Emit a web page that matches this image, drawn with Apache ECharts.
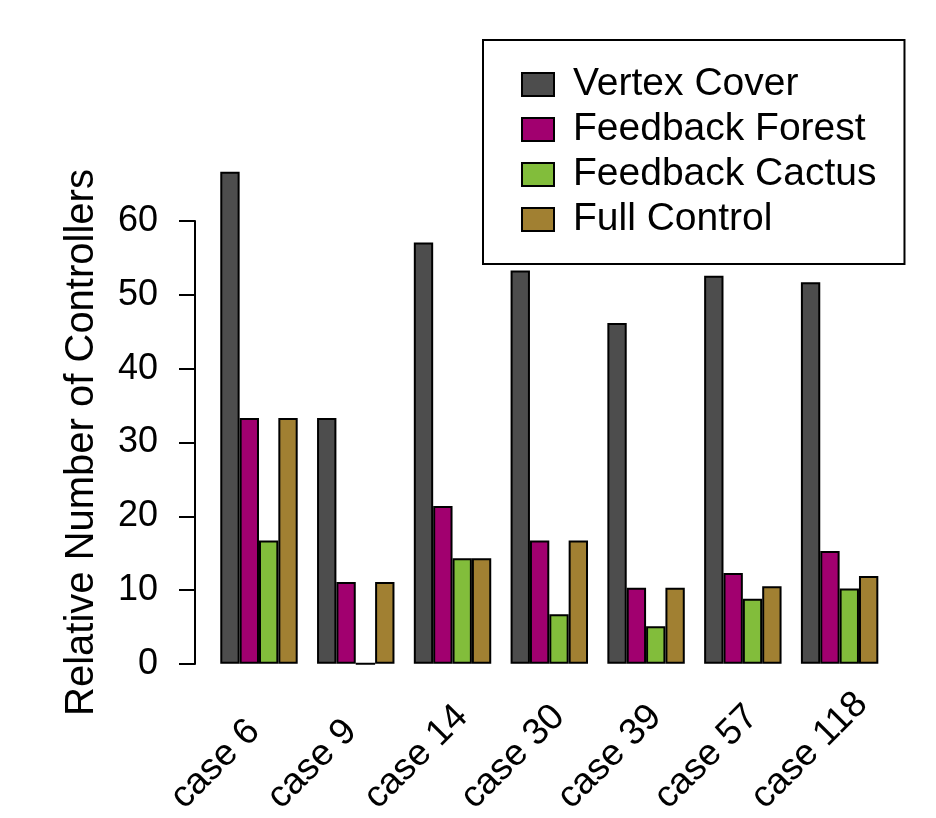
<!DOCTYPE html>
<html>
<head>
<meta charset="utf-8">
<script src="https://cdn.jsdelivr.net/npm/echarts@6/dist/echarts.min.js"></script>
<style>
html,body{margin:0;padding:0;background:#fff;}
#chart{width:936px;height:818px;}
</style>
</head>
<body>
<div id="chart"></div>
<script>
const categories = ['case 6', 'case 9', 'case 14', 'case 30', 'case 39', 'case 57', 'case 118'];
const seriesNames = ['Vertex Cover', 'Feedback Forest', 'Feedback Cactus', 'Full Control'];
const vertexCover = [66.7, 33.3, 57.1, 53.3, 46.2, 52.6, 51.7];
const feedbackForest = [33.3, 11.1, 21.4, 16.7, 10.3, 12.3, 15.3];
const feedbackCactus = [16.7, 0, 14.3, 6.7, 5.1, 8.8, 10.2];
const fullControl = [33.3, 11.1, 14.3, 16.7, 10.3, 10.5, 11.9];
const yTicks = [0, 10, 20, 30, 40, 50, 60];

const colors = ['#4D4D4D', '#A1006F', '#82BD3B', '#A18032'];
const seriesData = [vertexCover, feedbackForest, feedbackCactus, fullControl];
const FONT = '"Liberation Sans", Arial, Helvetica, sans-serif';

const chart = echarts.init(document.getElementById('chart'), null, {renderer: 'canvas'});

const option = {
  backgroundColor: '#ffffff',
  animation: false,
  textStyle: {fontFamily: FONT, color: '#000'},
  legend: {
    orient: 'vertical',
    left: 483,
    top: 40,
    data: seriesNames.map(n => ({name: n, icon: 'rect'})),
    itemWidth: 32,
    itemHeight: 23,
    itemGap: 6,
    padding: [25, 28, 25, 38],
    borderColor: '#000',
    borderWidth: 2,
    backgroundColor: '#fff',
    textStyle: {fontSize: 39, lineHeight: 39, color: '#000', fontFamily: FONT, padding: [0, 0, 0, 14]},
    itemStyle: {borderColor: '#000', borderWidth: 2}
  },
  grid: [
    {left: 210.6, right: 48, top: 147.3, bottom: 154, containLabel: false},
    {left: 210.6, right: 48, top: 221.1, bottom: 154, containLabel: false}
  ],
  xAxis: [
    {
      type: 'category',
      gridIndex: 0,
      data: categories,
      axisLine: {show: false},
      axisTick: {show: false},
      axisLabel: {
        interval: 0,
        rotate: 45,
        margin: 57,
        formatter: v => '{t|' + v + '}',
        rich: {t: {width: 116, align: 'left', fontSize: 37, fontFamily: FONT, color: '#000'}}
      }
    },
    {
      type: 'category',
      gridIndex: 1,
      data: categories,
      show: false
    }
  ],
  yAxis: [
    {
      type: 'value',
      gridIndex: 0,
      min: 0,
      max: 70,
      show: false
    },
    {
      type: 'value',
      gridIndex: 1,
      min: 0,
      max: 60,
      interval: 10,
      offset: 15.6,
      name: 'Relative Number of Controllers',
      nameLocation: 'middle',
      nameGap: 93,
      nameTextStyle: {fontSize: 40, color: '#000', fontFamily: FONT},
      axisLine: {show: true, lineStyle: {color: '#000', width: 2}},
      axisTick: {show: true, length: 16, lineStyle: {color: '#000', width: 2}},
      axisLabel: {
        fontSize: 36, color: '#000', margin: 37, fontFamily: FONT,
        formatter: v => (yTicks.indexOf(v) >= 0 ? String(v) : '')
      },
      splitLine: {show: false}
    }
  ],
  series: seriesNames.map((name, i) => ({
    name: name,
    type: 'bar',
    xAxisIndex: 0,
    yAxisIndex: 0,
    data: seriesData[i],
    barGap: '0%',
    barCategoryGap: '20%',
    itemStyle: {color: colors[i], borderColor: '#000', borderWidth: 2}
  }))
};

chart.setOption(option);
</script>
</body>
</html>
